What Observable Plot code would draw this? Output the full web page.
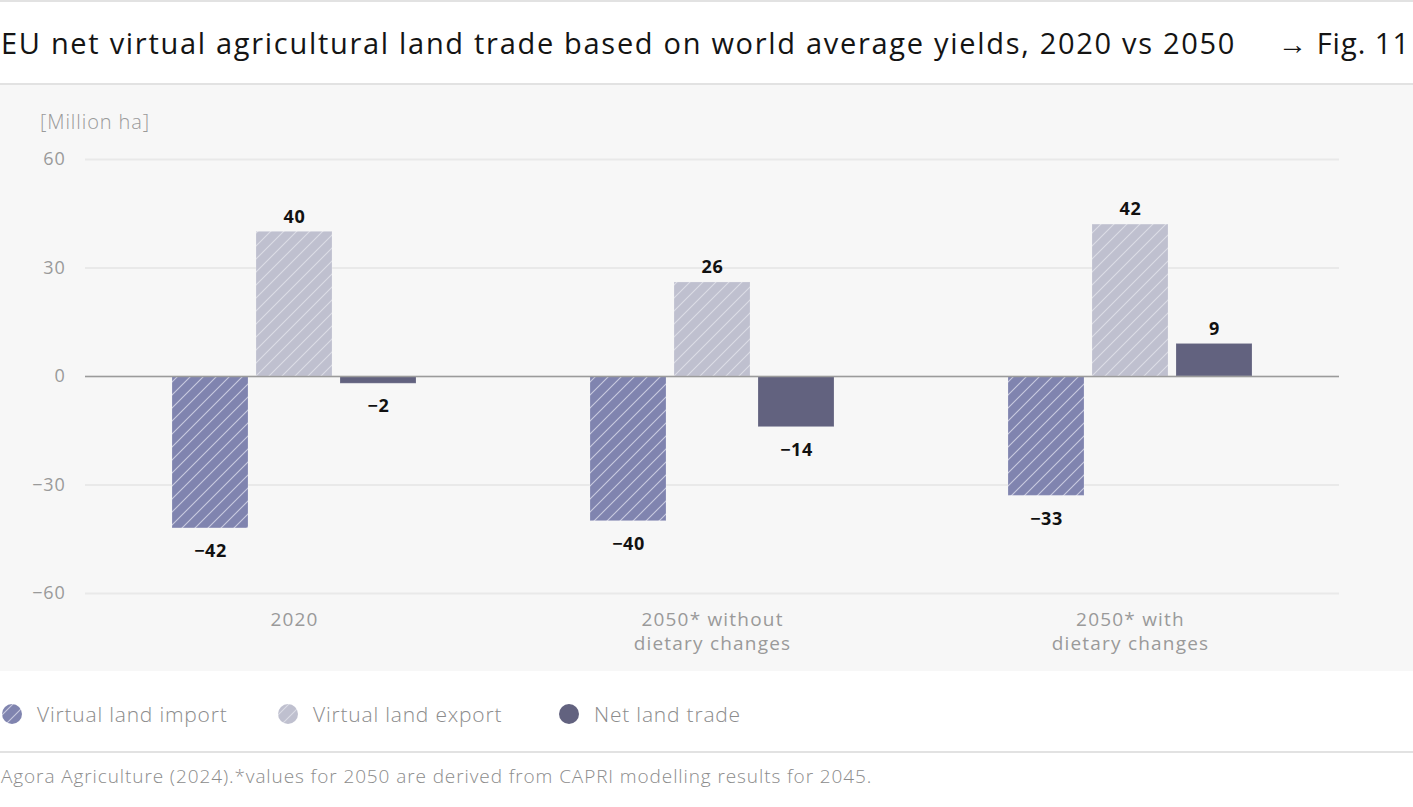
<!DOCTYPE html>
<html>
<head>
<meta charset="utf-8">
<script src="https://cdn.jsdelivr.net/npm/d3@7"></script>
<script src="https://cdn.jsdelivr.net/npm/@observablehq/plot@0.6"></script>
<style>
  html, body { margin: 0; padding: 0; background: #fff; }
  body { width: 1413px; height: 807px; position: relative; overflow: hidden; font-family: "Open Sans", "Noto Sans", sans-serif; }
  .rule { position: absolute; left: 0; width: 1413px; height: 2px; background: #e2e2e2; }
  #title { position: absolute; left: 1px; top: 23px; font-size: 29px; line-height: 40px; letter-spacing: 1.7px; color: #141414; white-space: nowrap; }
  #figref { position: absolute; right: 3px; top: 23px; font-size: 29px; line-height: 40px; letter-spacing: 1px; color: #141414; white-space: nowrap; }
  #panel { position: absolute; left: 0; top: 85px; width: 1413px; height: 586px; background: #f7f7f7; }
  #unit { position: absolute; left: 40px; top: 25px; font-size: 20px; line-height: 24px; letter-spacing: 0.9px; color: #9a9a9a; font-weight: 300; }
  #legend { position: absolute; left: 0; top: 699px; width: 1413px; height: 30px; font-size: 21px; letter-spacing: 0.8px; font-weight: 300; color: #8c8c8c; }
  #legend .item { position: absolute; top: 0; height: 30px; display: flex; align-items: center; white-space: nowrap; }
  #legend svg { margin-right: 14px; }
  #caption { position: absolute; left: 1px; top: 764px; font-size: 19px; line-height: 24px; letter-spacing: 0.9px; font-weight: 300; color: #8c8c8c; white-space: nowrap; }
  g[aria-label="fx-axis tick label"] text { letter-spacing: 1.2px; }
  g[aria-label="y-axis tick label"] text { letter-spacing: 0.8px; }
  g[aria-label="text"] text { letter-spacing: 0.6px; }
</style>
</head>
<body>
<svg width="0" height="0" style="position:absolute">
  <defs>
    <pattern id="hatch-import" patternUnits="userSpaceOnUse" width="13" height="13">
      <rect width="13" height="13" fill="#8084af"></rect>
      <path d="M-2,2 L2,-2 M0,13 L13,0 M11,15 L15,11" stroke="#c9cbe0" stroke-width="1.1"></path>
    </pattern>
    <pattern id="hatch-export" patternUnits="userSpaceOnUse" width="13" height="13">
      <rect width="13" height="13" fill="#bfc0cf"></rect>
      <path d="M-2,2 L2,-2 M0,13 L13,0 M11,15 L15,11" stroke="#dcdde6" stroke-width="1.1"></path>
    </pattern>
  </defs>
</svg>
<div class="rule" style="top:0"></div>
<div id="title">EU net virtual agricultural land trade based on world average yields, 2020 vs 2050</div>
<div id="figref">→ Fig. 11</div>
<div class="rule" style="top:83px"></div>
<div id="panel"><div id="unit">[Million ha]</div></div>
<div id="legend"></div>
<div class="rule" style="top:751px"></div>
<div id="caption">Agora Agriculture (2024).*values for 2050 are derived from CAPRI modelling results for 2045.</div>
<script>
// Scenarios on the horizontal axis
const categories = ["2020", "2050* without\ndietary changes", "2050* with\ndietary changes"];
// Bar series within each scenario
const series = ["Virtual land import", "Virtual land export", "Net land trade"];
// Values in million hectares, one per scenario
const importValues = [-42, -40, -33];
const exportValues = [40, 26, 42];
const netValues = [-2, -14, 9];
// Y axis ticks
const yTicks = [-60, -30, 0, 30, 60];

const seriesFills = ["url(#hatch-import)", "url(#hatch-export)", "#62627f"];
const seriesValues = [importValues, exportValues, netValues];

const rows = categories.flatMap((c, i) =>
  series.map((s, j) => ({category: c, series: s, value: seriesValues[j][i]}))
);

const fmt = d3.format("d");

const chart = Plot.plot({
  width: 1413,
  height: 586,
  marginLeft: 84,
  marginRight: 73,
  marginTop: 74,
  marginBottom: 78,
  style: {background: "transparent", fontFamily: "'Open Sans', 'Noto Sans', sans-serif"},
  fx: {domain: categories, padding: 0, axis: null, label: null},
  x: {domain: series, paddingInner: 0.094, paddingOuter: 1.01, axis: null, label: null},
  y: {domain: [-60, 60], axis: null, label: null},
  color: {domain: series, range: seriesFills},
  marks: [
    Plot.gridY(yTicks, {stroke: "#e9e9e9", strokeOpacity: 1, strokeWidth: 2}),
    Plot.axisY({ticks: yTicks, tickSize: 0, tickPadding: 20, fontSize: 18, color: "#9a9a9a", tickFormat: fmt, label: null}),
    Plot.axisFx({anchor: "bottom", tickSize: 0, tickPadding: 16, fontSize: 19, lineHeight: 1.25, color: "#9a9a9a", label: null}),
    Plot.barY(rows, {fx: "category", x: "series", y: "value", fill: "series", stroke: "#ffffff", strokeOpacity: 0.18, strokeWidth: 1}),
    Plot.ruleY([0], {stroke: "#9b9b9b", strokeWidth: 1.5}),
    Plot.text(rows.filter(d => d.value >= 0), {fx: "category", x: "series", y: "value", text: d => fmt(d.value), dy: -15, fontSize: 18, fontWeight: "bold", fill: "#111"}),
    Plot.text(rows.filter(d => d.value < 0), {fx: "category", x: "series", y: "value", text: d => fmt(d.value), dy: 23, fontSize: 18, fontWeight: "bold", fill: "#111"})
  ]
});
document.getElementById("panel").appendChild(chart);

// Legend with circular swatches
const legendLeft = [1, 277, 558];
const legend = d3.select("#legend");
series.forEach((s, j) => {
  const item = legend.append("div").attr("class", "item").style("left", legendLeft[j] + "px");
  item.append("svg").attr("width", 22).attr("height", 22)
    .append("circle").attr("cx", 11).attr("cy", 11).attr("r", 10).attr("fill", seriesFills[j]);
  item.append("span").text(s);
});
</script>
</body>
</html>
